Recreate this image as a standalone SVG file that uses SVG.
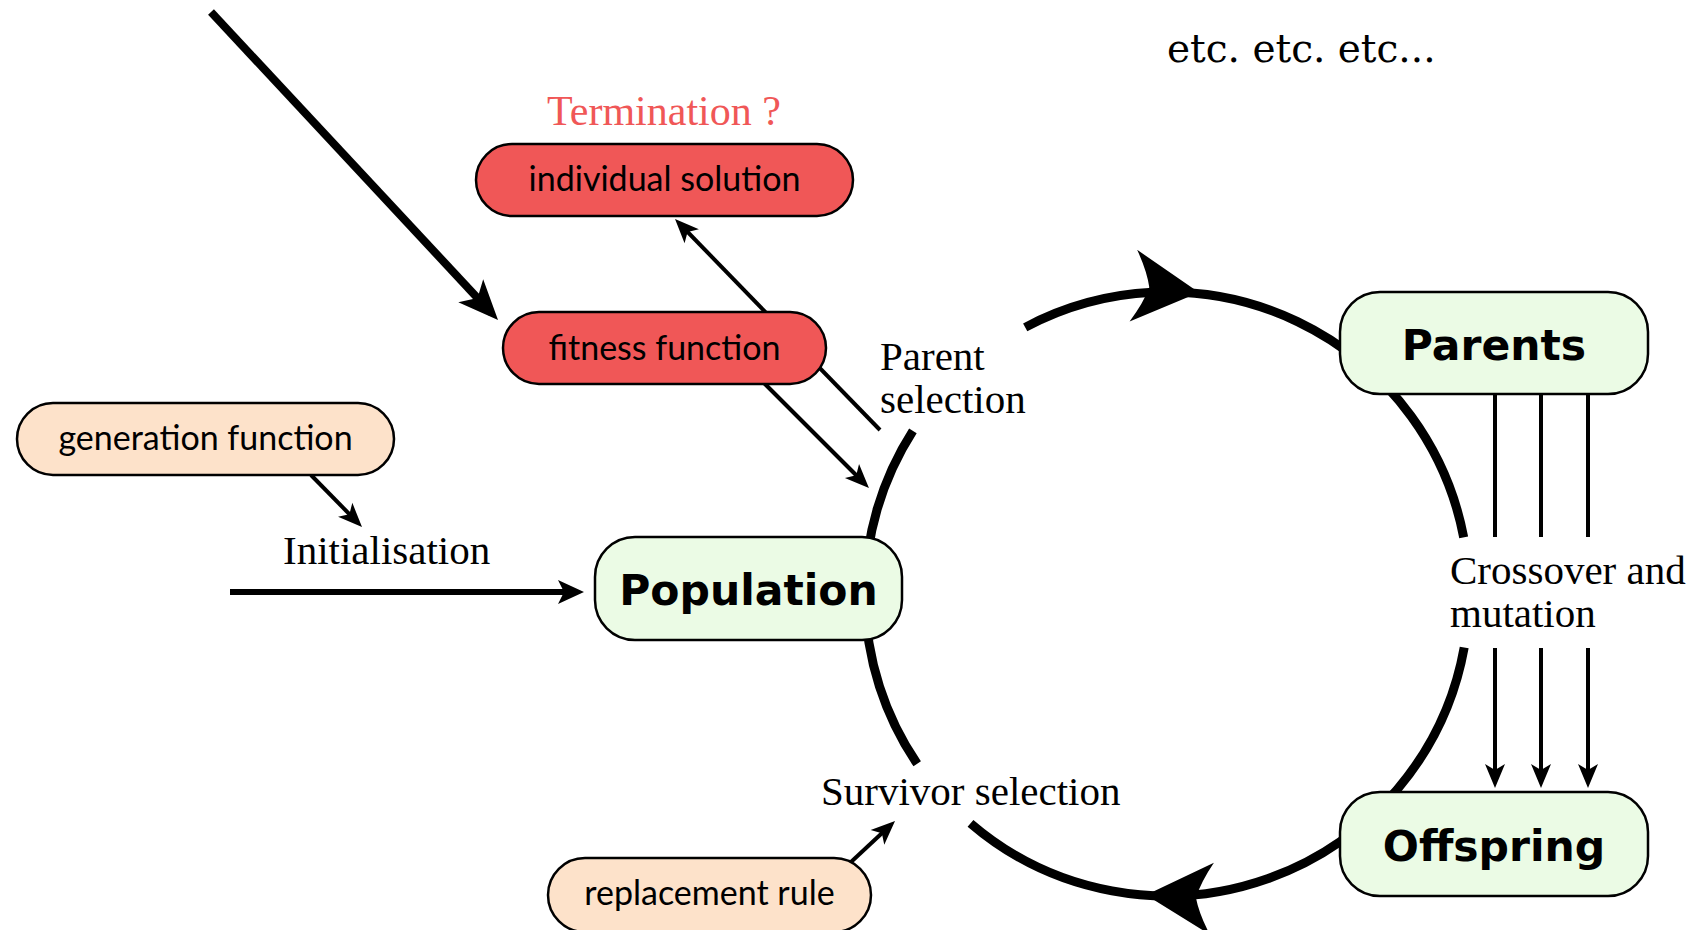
<svg xmlns="http://www.w3.org/2000/svg" width="1693" height="930" viewBox="0 0 1693 930">
<style>
.pill{stroke:#000;stroke-width:2.5}
.red{fill:#F05757}
.peach{fill:#FDE2CA}
.green{fill:#EBFBE5}
.nt{font-family:Lato,"Open Sans",sans-serif;font-size:34px;fill:#000;text-anchor:middle}
.bt{font-family:"DejaVu Sans",sans-serif;font-size:42.5px;font-weight:bold;fill:#000;text-anchor:middle}
.lbl{font-family:"Liberation Serif",serif;font-size:41px;fill:#000}
.arc{fill:none;stroke:#000;stroke-width:9}
.thin{fill:none;stroke:#000;stroke-width:4}
</style>
<defs>
<marker id="headS" viewBox="-20 -12 30 24" refX="0" refY="0" markerWidth="30" markerHeight="24" markerUnits="userSpaceOnUse" orient="auto">
<path d="M7,0 L-17,-10 L-11,0 L-17,10 Z" fill="#000"/>
</marker>
<marker id="headM" viewBox="-22 -14 34 28" refX="0" refY="0" markerWidth="34" markerHeight="28" markerUnits="userSpaceOnUse" orient="auto">
<path d="M8,0 L-18,-12 L-12,0 L-18,12 Z" fill="#000"/>
</marker>
<marker id="headL" viewBox="-34 -20 48 40" refX="0" refY="0" markerWidth="48" markerHeight="40" markerUnits="userSpaceOnUse" orient="auto">
<path d="M10,0 L-30,-17 L-20,0 L-30,17 Z" fill="#000"/>
</marker>
<path id="bigHead" d="M0,0 L-66,-36 Q-54,-16 -50,0 Q-54,16 -66,36 Z" fill="#000"/>
</defs>
<rect width="1693" height="930" fill="#fff"/>

<g id="connectors">
<path class="arc" d="M1025.2,327.4 A302,302 0 0 1 1463.7,537.4"/>
<path class="arc" d="M1464.2,647.5 A302,302 0 0 1 970.5,823.3"/>
<path class="arc" d="M917.2,763.8 A302,302 0 0 1 912.9,430.9"/>
<use href="#bigHead" transform="translate(1199,292.5) rotate(6)"/>
<use href="#bigHead" transform="translate(1146,895) rotate(183.2)"/>
<line x1="211" y1="12" x2="491.2" y2="312.7" stroke="#000" stroke-width="8" marker-end="url(#headL)"/>
<line x1="230" y1="592" x2="576" y2="592" stroke="#000" stroke-width="6" marker-end="url(#headM)"/>
<line class="thin" x1="880" y1="430" x2="679.9" y2="224" marker-end="url(#headS)"/>
<line class="thin" x1="764" y1="383" x2="864" y2="483" marker-end="url(#headS)"/>
<line class="thin" x1="311" y1="475" x2="357.1" y2="522" marker-end="url(#headS)"/>
<line class="thin" x1="851" y1="862" x2="889.9" y2="825.8" marker-end="url(#headS)"/>
<line class="thin" x1="1495" y1="394" x2="1495" y2="537"/>
<line class="thin" x1="1541" y1="394" x2="1541" y2="537"/>
<line class="thin" x1="1588" y1="394" x2="1588" y2="537"/>
<line class="thin" x1="1495" y1="648" x2="1495" y2="781" marker-end="url(#headS)"/>
<line class="thin" x1="1541" y1="648" x2="1541" y2="781" marker-end="url(#headS)"/>
<line class="thin" x1="1588" y1="648" x2="1588" y2="781" marker-end="url(#headS)"/>
<text class="lbl" x="880" y="370">Parent</text>
<text class="lbl" x="880" y="413">selection</text>
<text class="lbl" x="283" y="564">Initialisation</text>
<text class="lbl" x="1450" y="584">Crossover and</text>
<text class="lbl" x="1450" y="627">mutation</text>
<text class="lbl" x="821" y="805">Survivor selection</text>
<text class="lbl" x="664" y="125" text-anchor="middle" style="fill:#F05757;font-size:42px">Termination ?</text>
</g>

<g id="individual-solution">
<rect class="pill red" x="476" y="144" width="377" height="72" rx="36"/>
<text class="nt" x="664.5" y="191">individual solution</text>
</g>
<g id="fitness-function">
<rect class="pill red" x="503" y="312" width="323" height="72" rx="36"/>
<text class="nt" x="664.5" y="360">fitness function</text>
</g>
<g id="generation-function">
<rect class="pill peach" x="17" y="403" width="377" height="72" rx="36"/>
<text class="nt" x="205.5" y="450">generation function</text>
</g>
<g id="replacement-rule">
<rect class="pill peach" x="548" y="858" width="323" height="74" rx="37"/>
<text class="nt" x="709.5" y="905">replacement rule</text>
</g>
<g id="population">
<rect class="pill green" x="595" y="537" width="307" height="103" rx="40"/>
<text class="bt" x="748.5" y="605">Population</text>
</g>
<g id="parents">
<rect class="pill green" x="1340" y="292" width="308" height="102" rx="40"/>
<text class="bt" x="1494" y="360">Parents</text>
</g>
<g id="offspring">
<rect class="pill green" x="1340" y="792" width="308" height="104" rx="40"/>
<text class="bt" x="1494" y="861">Offspring</text>
</g>
<g id="etc">
<text x="1167" y="62" style="font-family:'DejaVu Serif',serif;font-size:39px;fill:#000">etc. etc. etc...</text>
</g>
</svg>
